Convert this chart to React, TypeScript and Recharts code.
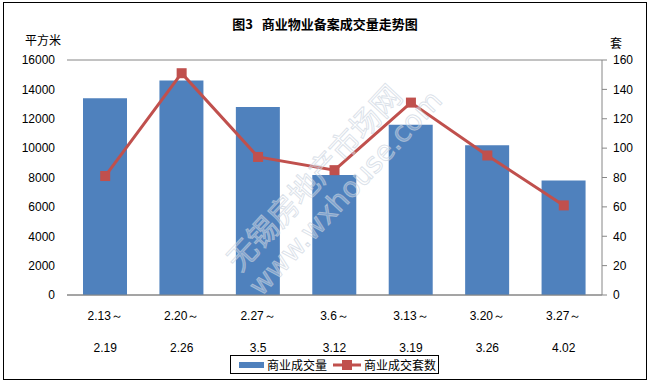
import React from 'react';
import {
  ComposedChart,
  Bar,
  Line,
  XAxis,
  YAxis,
  CartesianGrid,
  Legend,
} from 'recharts';

// week ranges, split into two label lines like the original
const weekStart = ['2.13～', '2.20～', '2.27～', '3.6～', '3.13～', '3.20～', '3.27～'];
const weekEnd = ['2.19', '2.26', '3.5', '3.12', '3.19', '3.26', '4.02'];

// 商业成交量 (平方米)
const areaValues = [13400, 14600, 12800, 8170, 11600, 10200, 7800];
// 商业成交套数 (套)
const unitValues = [81, 151, 94, 85, 131, 95, 61];

const leftTicks = [0, 2000, 4000, 6000, 8000, 10000, 12000, 14000, 16000];
const rightTicks = [0, 20, 40, 60, 80, 100, 120, 140, 160];

const BLUE = '#4F81BD';
const RED = '#C0504D';
const GRID = '#868686';
const FONT = '"Liberation Sans", Arial, sans-serif';

const chartData = weekStart.map((s, i) => ({
  name: s,
  end: weekEnd[i],
  area: areaValues[i],
  units: unitValues[i],
}));

const TwoLineTick = (props: any) => {
  const { x, y, index } = props;
  return (
    <text x={x} y={y} textAnchor="middle" fontSize={12} fill="#000" fontFamily={FONT}>
      <tspan x={x} dy={17}>{weekStart[index]}</tspan>
      <tspan x={x} dy={32}>{weekEnd[index]}</tspan>
    </text>
  );
};

const SquareDot = (props: any) => {
  const { cx, cy } = props;
  if (cx == null || cy == null) return null;
  return <rect x={cx - 5} y={cy - 5} width={10} height={10} fill={RED} />;
};

const renderLegend = () => (
  <div
    style={{
      border: '1px solid #000',
      background: '#fff',
      height: 19,
      width: 209,
      display: 'flex',
      alignItems: 'center',
      fontFamily: '"Noto Sans CJK SC", sans-serif',
      fontSize: 12,
      color: '#000',
      boxSizing: 'border-box',
    }}
  >
    <span style={{ width: 25, height: 6, background: BLUE, marginLeft: 8, marginRight: 3 }} />
    <span>商业成交量</span>
    <svg width={28} height={12} style={{ marginLeft: 6, marginRight: 3 }}>
      <line x1={0} y1={6} x2={28} y2={6} stroke={RED} strokeWidth={3} />
      <rect x={9} y={1} width={10} height={10} fill={RED} />
    </svg>
    <span>商业成交套数</span>
  </div>
);

export default function App() {
  return (
    <div
      style={{
        position: 'absolute',
        left: 0,
        top: 0,
        width: 650,
        height: 383,
        background: '#fff',
      }}
    >
      <div
        style={{
          position: 'absolute',
          left: 3,
          top: 2,
          width: 644,
          height: 378,
          border: '1px solid #000',
          boxSizing: 'border-box',
        }}
      />
      <div
        style={{
          position: 'absolute',
          top: 14,
          left: 0,
          width: 650,
          textAlign: 'center',
          fontFamily: '"Noto Sans CJK SC", sans-serif',
          fontWeight: 'bold',
          fontSize: 13,
        }}
      >
        图3&nbsp;&nbsp;&nbsp;商业物业备案成交量走势图
      </div>
      <div
        style={{
          position: 'absolute',
          top: 31,
          left: 25,
          fontFamily: '"Noto Sans CJK SC", sans-serif',
          fontSize: 12,
        }}
      >
        平方米
      </div>
      <div
        style={{
          position: 'absolute',
          top: 34,
          left: 610,
          fontFamily: '"Noto Sans CJK SC", sans-serif',
          fontSize: 12,
        }}
      >
        套
      </div>
      <ComposedChart
        width={650}
        height={383}
        data={chartData}
        margin={{ top: 60, right: 0, left: 0, bottom: 28 }}
        style={{ position: 'absolute', left: 0, top: 0 }}
      >
        <CartesianGrid vertical={false} stroke={GRID} strokeWidth={1} />
        <XAxis
          dataKey="name"
          height={60}
          axisLine={{ stroke: GRID }}
          tickLine={false}
          tick={<TwoLineTick />}
          interval={0}
        />
        <YAxis
          yAxisId="left"
          width={67}
          domain={[0, 16000]}
          ticks={leftTicks}
          axisLine={false}
          tickLine={false}
          tickMargin={6}
          tick={{ fontSize: 12, fill: '#000', fontFamily: FONT }}
          interval={0}
        />
        <YAxis
          yAxisId="right"
          orientation="right"
          width={48}
          domain={[0, 160]}
          ticks={rightTicks}
          axisLine={{ stroke: GRID }}
          tickLine={{ stroke: GRID }}
          tickSize={5}
          tickMargin={6}
          tick={{ fontSize: 12, fill: '#000', fontFamily: FONT, textAnchor: 'start' }}
          interval={0}
        />
        <Legend
          layout="horizontal"
          verticalAlign="middle"
          content={renderLegend}
          wrapperStyle={{ left: 230, top: 355, width: 211, height: 20 }}
        />
        <Bar
          yAxisId="left"
          dataKey="area"
          name="商业成交量"
          fill={BLUE}
          barSize={44}
          isAnimationActive={false}
        />
        <Line
          yAxisId="right"
          dataKey="units"
          name="商业成交套数"
          stroke={RED}
          strokeWidth={3}
          dot={<SquareDot />}
          activeDot={false}
          isAnimationActive={false}
        />
      </ComposedChart>
      {/* watermark */}
      <svg
        width={650}
        height={383}
        style={{ position: 'absolute', left: 0, top: 0, pointerEvents: 'none' }}
      >
        <g transform="translate(322,185) rotate(-47)">
          <text
            x={0}
            y={0}
            textAnchor="middle"
            fontSize={30}
            fontFamily='"Noto Sans CJK SC", sans-serif'
            fill="#fff"
            fillOpacity={0.3}
            stroke="#c4cedb"
            strokeOpacity={0.6}
            strokeWidth={1}
          >
            无锡房地产市场网
          </text>
          <text
            x={10}
            y={32}
            textAnchor="middle"
            fontSize={28}
            fontFamily='"DejaVu Sans", sans-serif'
            fill="#fff"
            fillOpacity={0.3}
            stroke="#c4cedb"
            strokeOpacity={0.6}
            strokeWidth={1}
          >
            www.wxhouse.com
          </text>
        </g>
      </svg>
    </div>
  );
}
